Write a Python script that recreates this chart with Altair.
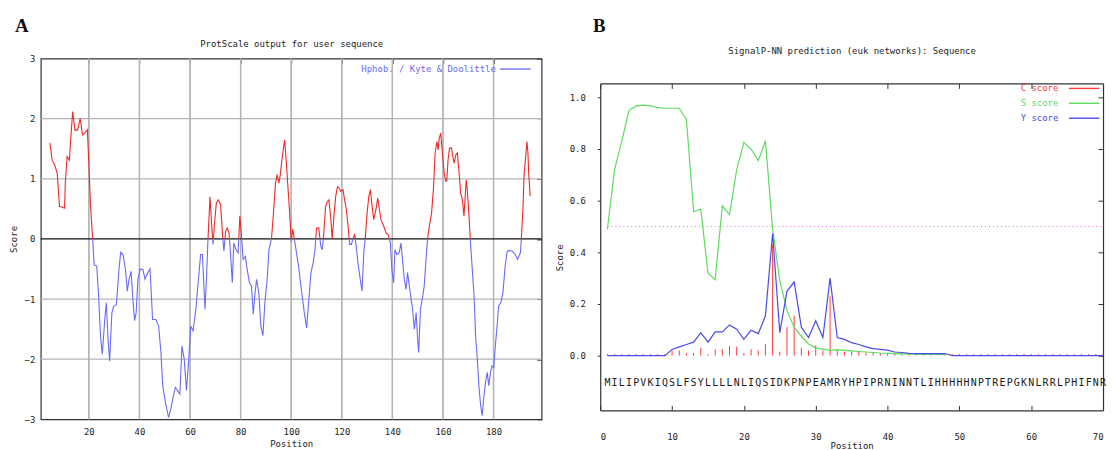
import altair as alt
import pandas as pd

# ---------------- Panel A: ProtScale (Kyte & Doolittle) ----------------
kd_pos = [4.6, 5.5, 6.5, 7.5, 8.4, 9.3, 10.4, 10.7, 11.4, 12.3, 13.0, 13.6, 14.5, 15.5, 16.6, 17.5, 18.4, 19.4,
          20.0, 20.6, 21.5, 22.1, 23.1, 23.8, 24.6, 25.3, 26.3, 26.9, 27.6, 28.2, 29.1, 29.8, 30.9, 31.9, 32.6,
          33.5, 34.5, 35.2, 35.9, 36.7, 37.4, 38.1, 38.7, 39.4, 40.3, 41.4, 42.2, 43.3, 44.2, 45.2, 46.5, 47.6,
          48.5, 49.2, 50.5, 51.5, 52.4, 53.4, 54.2, 55.1, 56.0, 56.8, 57.7, 58.6, 59.4, 60.3, 61.2, 62.3, 63.2,
          64.2, 64.9, 65.9, 66.5, 67.1, 67.9, 68.6, 69.1, 69.7, 70.4, 71.2, 72.1, 72.8, 73.4, 74.1, 74.7, 75.4,
          76.0, 76.7, 77.3, 78.2, 79.0, 79.7, 80.3, 81.0, 81.9, 82.6, 83.5, 84.3, 85.0, 85.6, 86.3, 87.2, 88.0,
          88.8, 89.6, 90.5, 91.2, 92.2, 93.1, 93.8, 94.4, 95.1, 95.7, 96.4, 97.4, 98.1, 98.7, 99.4, 100.0, 100.6,
          101.5, 102.9, 104.2, 105.2, 106.1, 107.0, 107.8, 108.7, 109.4, 110.0, 110.9, 111.7, 112.3, 112.9,
          113.6, 114.3, 114.9, 115.7, 116.2, 117.0, 117.6, 118.3, 118.9, 119.6, 120.5, 121.1, 121.8, 122.5,
          123.1, 123.8, 124.4, 125.1, 125.7, 126.4, 127.3, 128.0, 128.7, 129.3, 130.0, 130.7, 131.3, 132.0,
          132.6, 133.5, 134.2, 134.9, 135.5, 136.6, 137.5, 138.4, 139.2, 139.8, 140.5, 141.0, 141.8, 142.7,
          143.4, 144.0, 144.7, 145.4, 146.0, 146.7, 147.4, 148.0, 148.7, 149.4, 150.0, 150.4, 151.1, 152.0,
          152.6, 153.3, 153.9, 154.6, 155.5, 156.3, 156.9, 157.6, 158.1, 158.5, 159.1, 159.8, 160.5, 161.1,
          161.5, 162.0, 162.6, 163.4, 163.9, 164.4, 165.1, 165.7, 166.4, 167.0, 167.7, 168.3, 168.7, 169.2,
          169.6, 170.3, 170.9, 171.6, 172.3, 172.9, 173.6, 174.2, 174.9, 175.5, 176.2, 176.8, 177.5, 178.1,
          178.8, 179.4, 180.1, 180.7, 181.4, 182.0, 182.9, 183.7, 184.6, 185.3, 185.9, 187.3, 188.6, 189.5,
          190.6, 191.0, 191.6, 192.1, 192.5, 193.2, 193.6, 193.9, 194.5]
kd_score = [1.60, 1.31, 1.23, 1.09, 0.54, 0.53, 0.51, 0.93, 1.37, 1.31, 1.76, 2.12, 1.81, 1.81, 2.00, 1.73, 1.76,
            1.82, 1.26, 0.60, 0.00, -0.43, -0.45, -0.90, -1.61, -1.92, -1.34, -1.06, -1.67, -2.03, -1.23, -1.12,
            -1.09, -0.51, -0.22, -0.26, -0.51, -0.87, -0.67, -0.54, -1.00, -1.36, -1.23, -0.67, -0.50, -0.51,
            -0.67, -0.56, -0.50, -1.34, -1.34, -1.45, -1.89, -2.44, -2.77, -2.97, -2.83, -2.61, -2.47, -2.52,
            -2.58, -1.78, -2.00, -2.52, -2.06, -1.45, -1.53, -1.17, -0.73, -0.26, -0.26, -1.17, -0.67, 0.00,
            0.70, 0.21, -0.09, 0.27, 0.60, 0.65, 0.57, 0.10, -0.20, 0.13, 0.18, 0.10, -0.23, -0.73, -0.07, -0.18,
            -0.23, 0.38, 0.07, -0.34, -0.29, -0.51, -0.73, -0.78, -1.25, -0.95, -0.67, -0.90, -1.45, -1.61, -1.06,
            -0.67, -0.18, 0.00, 0.49, 0.93, 1.07, 0.93, 1.07, 1.34, 1.65, 1.26, 0.87, 0.43, -0.04, 0.16, -0.07,
            -0.45, -0.90, -1.23, -1.48, -1.00, -0.56, -0.40, -0.18, 0.18, 0.18, -0.12, -0.18, 0.10, 0.54, 0.62,
            0.65, 0.32, 0.00, 0.43, 0.71, 0.87, 0.85, 0.79, 0.82, 0.65, 0.49, 0.21, -0.09, -0.09, 0.00, 0.07,
            -0.12, -0.40, -0.67, -0.87, -0.23, 0.02, 0.43, 0.71, 0.82, 0.54, 0.32, 0.49, 0.68, 0.49, 0.32, 0.21,
            0.10, 0.07, -0.07, -0.51, -0.73, -0.18, -0.26, -0.23, -0.07, -0.34, -0.67, -0.84, -0.56, -0.78, -1.00,
            -1.17, -1.50, -1.23, -1.67, -1.89, -1.17, -0.95, -0.78, -0.34, 0.00, 0.21, 0.43, 0.87, 1.43, 1.62,
            1.48, 1.67, 1.76, 1.43, 1.09, 0.96, 0.96, 1.31, 1.51, 1.51, 1.37, 1.26, 1.40, 1.43, 1.09, 0.76, 0.65,
            0.38, 0.65, 0.98, 0.82, 0.38, -0.07, -0.51, -0.95, -1.61, -2.00, -2.44, -2.77, -2.94, -2.61, -2.39,
            -2.22, -2.44, -2.22, -2.11, -2.14, -1.78, -1.45, -1.12, -1.06, -0.90, -0.45, -0.23, -0.19, -0.20,
            -0.26, -0.34, -0.23, 0.00, 0.49, 1.09, 1.26, 1.62, 1.43, 1.09, 0.71]
a_xticks = [20, 40, 60, 80, 100, 120, 140, 160, 180]
a_yticks = [-3, -2, -1, 0, 1, 2, 3]
a_ygrid = [-2, -1, 1, 2]
kd_label = "Hphob. / Kyte & Doolittle"

# ---------------- Panel B: SignalP-NN ----------------
positions = list(range(1, 71))
c_score = [0.006] * 9 + [0.02, 0.02, 0.01, 0.01, 0.03, 0.005, 0.025, 0.025, 0.038, 0.035, 0.01, 0.025, 0.02,
                         0.045, 0.43, 0.015, 0.11, 0.155, 0.03, 0.02, 0.04, 0.02, 0.23, 0.02, 0.015, 0.015,
                         0.015, 0.012, 0.012, 0.01, 0.01] + [0.006] * 30
s_score = [0.49, 0.72, 0.83, 0.95, 0.967, 0.97, 0.967, 0.96, 0.958, 0.958, 0.958, 0.915, 0.557, 0.567, 0.32,
           0.294, 0.58, 0.546, 0.72, 0.826, 0.80, 0.755, 0.832, 0.49, 0.29, 0.175, 0.11, 0.075, 0.045, 0.03,
           0.025, 0.02, 0.022, 0.02, 0.018, 0.016, 0.014, 0.012, 0.01, 0.009, 0.008, 0.007, 0.006, 0.006,
           0.005, 0.005, 0.005, 0.004]
y_score = [0.0] * 9 + [0.024, 0.034, 0.043, 0.052, 0.089, 0.052, 0.092, 0.092, 0.119, 0.102, 0.063, 0.098,
                       0.085, 0.154, 0.473, 0.089, 0.25, 0.285, 0.11, 0.07, 0.135, 0.07, 0.30, 0.07, 0.063, 0.05,
                       0.043, 0.034, 0.027, 0.024, 0.021, 0.014, 0.012, 0.009, 0.008, 0.008, 0.008, 0.008,
                       0.008] + [0.0] * 22
sequence = "MILIPVKIQSLFSYLLLLNLIQSIDKPNPEAMRYHPIPRNINNTLIHHHHHNPTREPGKNLRRLPHIFNR"
b_xticks = [0, 10, 20, 30, 40, 50, 60, 70]
b_yticks = [0.0, 0.2, 0.4, 0.6, 0.8, 1.0]
cutoff = [0.5]
series_names = ["C score", "S score", "Y score"]

# ---------------- colours / fonts ----------------
RED_A, BLUE_A = "#f02828", "#6a6af5"
RED_B, GREEN_B, BLUE_B = "#ff3a3a", "#5ddc5d", "#4a4ae8"
MONO = "DejaVu Sans Mono"
GRID = "#b4b4b4"
FRAME = "#333333"
SEQ_LEVEL = -0.105
LEG_SYMBOL = "M-1.7,0L1.7,0"     # long horizontal stroke, drawn in a small legend row


def ax(**kw):
    base = dict(labelFont=MONO, labelFontSize=9, titleFont=MONO, titleFontSize=9, titleFontWeight="normal",
                labelColor="#222", titleColor="#222", grid=False, domainColor=FRAME, domainWidth=1.2,
                tickColor=FRAME, tickWidth=1)
    base.update(kw)
    return alt.Axis(**base)


def inward(orient, offset, values):
    return ax(orient=orient, offset=offset, values=values, labels=False, domain=False, ticks=True,
              tickSize=5, title=None)


# ---------------- build panel A ----------------
rows, seg, prev = [], 0, None
for x, y in zip(kd_pos, kd_score):
    sgn = kd_label if y < 0 else "above"
    if prev is not None:
        px, py, ps = prev
        if (py < 0) != (y < 0):
            cx = px + (py / (py - y)) * (x - px)
            rows.append(dict(x=cx, y=0.0, seg=seg, sign=ps))
            seg += 1
            rows.append(dict(x=cx, y=0.0, seg=seg, sign=sgn))
    rows.append(dict(x=x, y=y, seg=seg, sign=sgn))
    prev = (x, y, sgn)
kd_df = pd.DataFrame(rows)

xA = alt.Scale(domain=[1, 199], nice=False, zero=False)
yA = alt.Scale(domain=[-3, 3], nice=False, zero=False)
WA, HA = 504, 363
gx_df = pd.DataFrame({"v": a_xticks})

gx = alt.Chart(gx_df).mark_rule(color=GRID, strokeWidth=1.3).encode(
    x=alt.X("v:Q", scale=xA, axis=ax(orient="top", labels=False, ticks=False, domain=False,
                                    title="ProtScale output for user sequence", titlePadding=10)))
gx2 = alt.Chart(gx_df).mark_rule(color=GRID, strokeWidth=1.3).encode(
    x=alt.X("v:Q", scale=xA, axis=inward("bottom", -HA, a_xticks)))
gy = alt.Chart(pd.DataFrame({"v": a_ygrid})).mark_rule(color=GRID, strokeWidth=1.3).encode(
    y=alt.Y("v:Q", scale=yA, axis=inward("left", -WA, a_yticks)))
zero = alt.Chart(pd.DataFrame({"v": [0]})).mark_rule(color="#111", strokeWidth=1.2).encode(
    y=alt.Y("v:Q", scale=yA, axis=None))
kd_line = alt.Chart(kd_df).mark_line(strokeWidth=1.1).encode(
    x=alt.X("x:Q", scale=xA, axis=ax(orient="bottom", values=a_xticks, title="Position", ticks=False,
                                    tickSize=0, domain=False, labelPadding=8, titlePadding=3)),
    y=alt.Y("y:Q", scale=yA, axis=ax(orient="left", values=a_yticks, title="Score", ticks=False, tickSize=0,
                                    domain=False, labelPadding=6, titlePadding=6)),
    color=alt.Color("sign:N", scale=alt.Scale(domain=[kd_label, "above"], range=[BLUE_A, RED_A]),
                    legend=alt.Legend(values=[kd_label], title=None, orient="none", legendX=461, legendY=-6,
                                      padding=0, symbolType="stroke", symbolSize=961,
                                      symbolStrokeWidth=1.3, labelAlign="right", labelOffset={"expr": "-36"},
                                      labelFont=MONO, labelFontSize=9, labelColor=BLUE_A)),
    detail="seg:N",
    order="x:Q",
)
panelA = alt.layer(gx, gx2, gy, zero, kd_line).resolve_axis(x="independent", y="independent").properties(
    width=WA, height=HA,
    title=alt.TitleParams("A", anchor="start", frame="bounds", font="Liberation Serif", fontSize=19,
                          fontWeight="bold", offset=4, dx=6, color="#111"))

# ---------------- build panel B ----------------
WB = 506
B_TOP, B_BOT = 25, 354          # frame of panel B inside its 363 px tall cell
xB = alt.Scale(domain=[0, 70], nice=False, zero=False)
yB = alt.Scale(domain=[-0.212, 1.054], nice=False, zero=False, range=[B_BOT, B_TOP])
colB = alt.Scale(domain=series_names, range=[RED_B, GREEN_B, BLUE_B])

c_df = pd.DataFrame({"pos": positions, "val": c_score, "series": "C score"})
s_df = pd.DataFrame({"pos": positions[:len(s_score)], "val": s_score, "series": "S score"})
y_df = pd.DataFrame({"pos": positions, "val": y_score, "series": "Y score"})
seq_df = pd.DataFrame({"pos": positions[:len(sequence)], "aa": list(sequence)})
cut_df = pd.DataFrame({"v": cutoff, "x0": [positions[0]], "x1": [positions[-1]]})

legB = alt.Legend(title=None, orient="none", legendX=477, legendY=20, padding=0,
                  symbolType=LEG_SYMBOL, symbolSize=324, symbolStrokeWidth=1.4, labelAlign="right",
                  labelOffset={"expr": "-36"}, labelFont=MONO, labelFontSize=9, rowPadding=0,
                  labelColor={"expr": "datum.label == 'C score' ? '%s' : (datum.label == 'S score' ? '%s' : '%s')"
                                      % (RED_B, GREEN_B, BLUE_B)})

cut = alt.Chart(cut_df).mark_rule(color="#e070e0", strokeDash=[1, 3], strokeWidth=1).encode(
    x=alt.X("x0:Q", scale=xB, axis=ax(orient="top", labels=False, ticks=False, domain=False,
                                     title="SignalP-NN prediction (euk networks): Sequence", titlePadding=3)),
    x2="x1:Q",
    y=alt.Y("v:Q", scale=yB, axis=ax(orient="left", values=b_yticks, format=".1f", title="Score", ticks=True,
                                    tickSize=3, domain=True, labelPadding=12, titlePadding=5, titleY=200)),
)
imp = alt.Chart(c_df).mark_rule(strokeWidth=1).encode(
    x=alt.X("pos:Q", scale=xB, axis=ax(orient="bottom", offset=-(HA - B_TOP), values=b_xticks, labels=False,
                                      domain=True, ticks=True, tickSize=5, title=None)),
    y=alt.Y("val:Q", scale=yB, axis=None),
    y2=alt.Y2(datum=0),
    color=alt.Color("series:N", scale=colB, legend=legB),
)
s_line = alt.Chart(s_df).mark_line(strokeWidth=1.2).encode(
    x=alt.X("pos:Q", scale=xB, axis=inward("top", -B_BOT, b_xticks)),
    y=alt.Y("val:Q", scale=yB, axis=ax(orient="left", offset=-WB, values=b_yticks, labels=False, domain=True,
                                      ticks=True, tickSize=5, title=None)),
    color=alt.Color("series:N", scale=colB, legend=legB),
)
y_line = alt.Chart(y_df).mark_line(strokeWidth=1.2).encode(
    x=alt.X("pos:Q", scale=xB, axis=ax(orient="bottom", values=b_xticks, title="Position", ticks=False,
                                      tickSize=0, domain=True, offset=-(HA - B_BOT), labelPadding=22,
                                      titlePadding=0)),
    y=alt.Y("val:Q", scale=yB, axis=None),
    color=alt.Color("series:N", scale=colB, legend=legB),
)
seq_text = alt.Chart(seq_df).mark_text(font=MONO, fontSize=10, color="#1a1a1a").encode(
    x=alt.X("pos:Q", scale=xB, axis=None),
    y=alt.Y(datum=SEQ_LEVEL, scale=yB, axis=None),
    text="aa:N",
)
panelB = alt.layer(cut, imp, s_line, y_line, seq_text).resolve_axis(x="independent", y="independent").properties(
    width=WB, height=HA, view=alt.ViewBackground(stroke=None),
    title=alt.TitleParams("B", anchor="start", frame="bounds", font="Liberation Serif", fontSize=19,
                          fontWeight="bold", offset=11, dx=38, color="#111"))

chart = alt.hconcat(panelA, panelB, spacing=11).resolve_scale(color="independent").properties(
    padding={"left": 0, "top": 6.5, "right": 0, "bottom": 0}
).configure_view(stroke=FRAME, strokeWidth=1.2)

chart.save("out.html", embed_options={"renderer": "svg", "actions": False})
